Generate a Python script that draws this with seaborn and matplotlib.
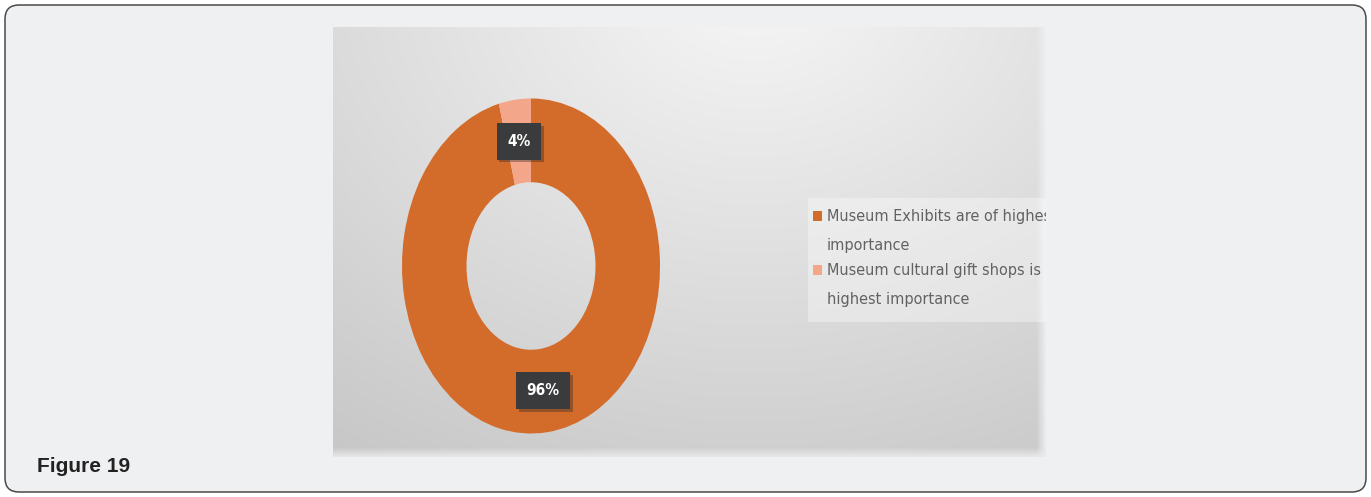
import numpy as np
import matplotlib
matplotlib.use("Agg")
import matplotlib.pyplot as plt
import seaborn as sns
from matplotlib.patches import FancyBboxPatch, Rectangle
from matplotlib import patheffects as pe
from matplotlib.font_manager import FontProperties
from matplotlib.legend_handler import HandlerPatch

sns.set_theme(style="white")
plt.rcParams["font.family"] = ["DejaVu Sans"]

# ---- data ----
categories = ["Museum Exhibits are of highest\nimportance",
              "Museum cultural gift shops is of\nhighest importance"]
shares = [96, 4]
colors = ["#d36b2b", "#f3a689"]
caption = "Figure 19"

W, H = 1371, 497
fig = plt.figure(figsize=(W / 100, H / 100), dpi=100)
fig.patch.set_facecolor("white")


def fr(x0, y0, x1, y1):
    return [x0 / W, 1 - y1 / H, (x1 - x0) / W, (y1 - y0) / H]


# full-figure pixel axes for the outer card
ax0 = fig.add_axes([0, 0, 1, 1])
ax0.set_xlim(0, W)
ax0.set_ylim(H, 0)
ax0.axis("off")
card = FancyBboxPatch((5, 5), 1361, 487, boxstyle="round,pad=0,rounding_size=14",
                      fc="#eff0f2", ec="#4a4a4a", lw=1.1)
ax0.add_patch(card)
ax0.text(37, 467, caption, fontsize=15, fontweight="bold", color="#222222",
         family=["Liberation Sans", "DejaVu Sans"], va="center", ha="left")

# inner chart image background (soft grey gradient)
bg = fig.add_axes(fr(333, 27, 1046, 457))
bh, bw = 430, 713
yy, xx = np.mgrid[0:bh, 0:bw]
d = np.sqrt(((xx - 420) / 600) ** 2 + ((yy + 40) / 460) ** 2)
val = 0.965 - 0.15 * np.clip(d, 0, 1.25)
edge = np.clip((xx - (bw - 10)) / 10, 0, 1)
val = val * (1 - edge) + 0.94 * edge
bedge = np.clip((yy - (bh - 10)) / 10, 0, 1)
val = val * (1 - bedge) + 0.92 * bedge
img = np.dstack([val, val, val])
bg.imshow(img, extent=(0, bw, bh, 0), aspect="auto", interpolation="bilinear")
bg.set_xlim(0, bw)
bg.set_ylim(bh, 0)
bg.axis("off")
# light legend panel
bg.add_patch(Rectangle((808 - 333, 198 - 27), 400, 124, fc="white", alpha=0.35, ec="none"))

# donut
pa = fig.add_axes(fr(369.75, 56.6, 692.25, 475.4))
lblprop = FontProperties(family="DejaVu Sans", stretch="condensed", weight="bold", size=11)
wedges, texts, autotexts = pa.pie(
    shares, colors=colors, startangle=90, counterclock=False,
    wedgeprops=dict(width=0.5, edgecolor="none"),
    autopct=lambda p: f"{p:.0f}%", pctdistance=0.75,
    textprops=dict(color="white", fontproperties=lblprop))
for t in autotexts:
    t.set_bbox(dict(boxstyle="square,pad=0.7", fc="#3a3b3c", ec="none"))
    t.get_bbox_patch().set_path_effects(
        [pe.withSimplePatchShadow(offset=(2, -2), shadow_rgbFace="#222222", alpha=0.35)])
pa.set_aspect("auto")
pa.set_xlim(-1.25, 1.25)
pa.set_ylim(-1.25, 1.25)
pa.axis("off")


# legend marker aligned with the first text line
def top_square(legend, orig_handle, xdescent, ydescent, width, height, fontsize):
    return Rectangle((-xdescent, -ydescent + 10.8), width, height)


legprop = FontProperties(family="DejaVu Sans", stretch="condensed", size=11.6)
leg = fig.legend(wedges, categories, loc="upper left",
                 bbox_to_anchor=(813, 209), bbox_transform=ax0.transData,
                 frameon=False, prop=legprop, labelcolor="#626262",
                 handlelength=0.55, handleheight=0.55, handletextpad=0.3,
                 labelspacing=0.62, borderpad=0, borderaxespad=0,
                 handler_map={w: HandlerPatch(patch_func=top_square) for w in wedges})
for t in leg.get_texts():
    t.set_linespacing(2.15)
    t.set_clip_on(True)
    t.set_clip_box(bg.bbox)

fig.savefig("out.png", dpi=100, facecolor=fig.get_facecolor())
